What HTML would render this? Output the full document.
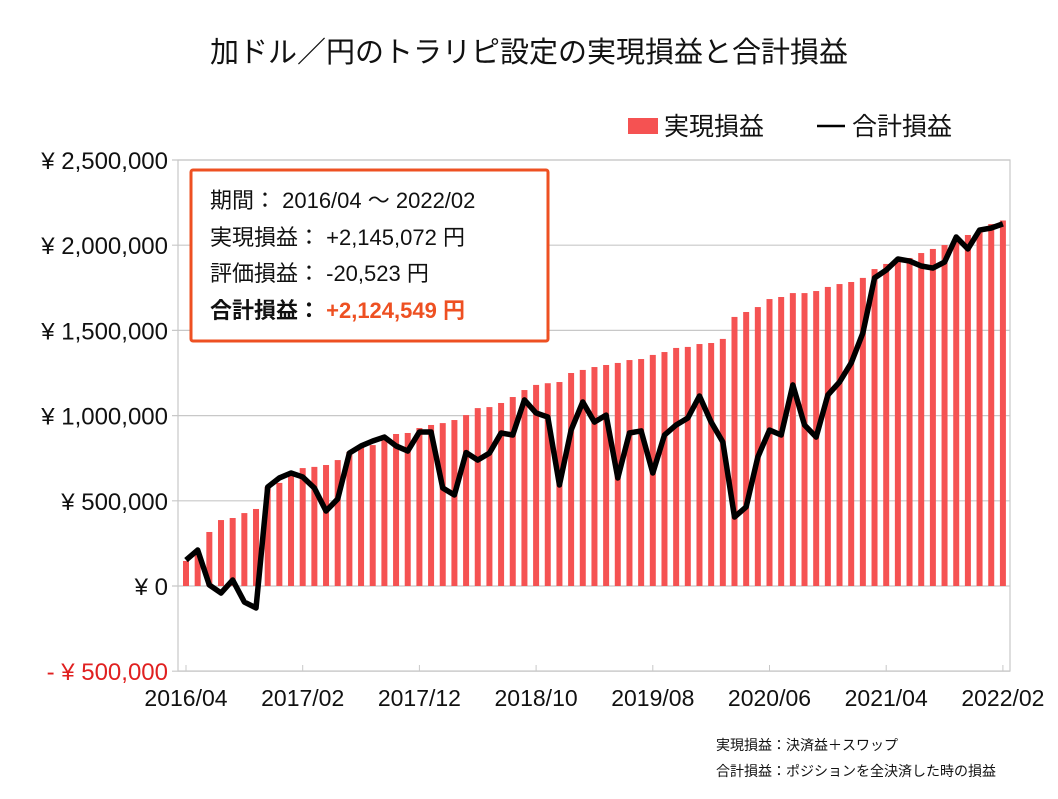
<!DOCTYPE html>
<html><head><meta charset="utf-8">
<style>
html,body{margin:0;padding:0;background:#fff;}
body{width:1058px;height:794px;overflow:hidden;font-family:"Liberation Sans","Noto Sans CJK JP",sans-serif;}
svg text{font-family:"Liberation Sans","Noto Sans CJK JP",sans-serif;}
</style></head>
<body>
<svg id="chart" width="1058" height="794" xmlns="http://www.w3.org/2000/svg">
<text x="529" y="62" text-anchor="middle" font-size="29" fill="#111">加ドル／円のトラリピ設定の実現損益と合計損益</text>
<g id="grid"></g>
<g id="bars"></g>
<g id="line"></g>
<g id="axes"></g>
<g>
<rect x="628" y="118" width="30" height="16" fill="#f55252"/>
<text x="664" y="135" font-size="25" fill="#111">実現損益</text>
<line x1="817" y1="126" x2="845" y2="126" stroke="#000" stroke-width="2.5"/>
<text x="852" y="135" font-size="25" fill="#111">合計損益</text>
</g>
<g>
<rect x="191" y="170" width="357" height="171" fill="#fff" stroke="#ee5022" stroke-width="3" rx="2"/>
<text x="210" y="208" font-size="22" fill="#111">期間： 2016/04 ～ 2022/02</text>
<text x="210" y="245" font-size="22" fill="#111">実現損益： +2,145,072 円</text>
<text x="210" y="281" font-size="22" fill="#111">評価損益： -20,523 円</text>
<text x="210" y="318" font-size="22" fill="#111" font-weight="bold">合計損益： <tspan fill="#ee5022">+2,124,549 円</tspan></text>
</g>
<text x="716" y="750" font-size="14" fill="#111">実現損益：決済益＋スワップ</text>
<text x="716" y="776" font-size="14" fill="#111">合計損益：ポジションを全決済した時の損益</text>
</svg>
<script>
const realized=[147,200,317,387,399,428,452,581,605,669,692,699,710,739,787,815,827,857,892,898,927,945,956,974,1003,1044,1050,1074,1109,1150,1180,1190,1197,1250,1268,1285,1297,1309,1326,1332,1356,1373,1397,1403,1420,1426,1450,1579,1608,1637,1684,1696,1719,1719,1731,1755,1772,1784,1808,1860,1890,1901,1925,1954,1978,2001,2042,2060,2078,2124,2145];
const total=[152,211,6,-41,35,-94,-129,581,634,663,640,575,440,511,780,822,851,874,822,792,904,904,575,534,783,739,780,898,886,1092,1015,992,593,915,1080,962,1003,634,898,910,663,886,945,986,1115,962,845,405,464,757,915,886,1180,945,874,1121,1197,1309,1485,1808,1854,1919,1907,1878,1866,1901,2048,1978,2089,2101,2125];
const yTicks=[2500,2000,1500,1000,500,0,-500];
const yTickLabels=["¥ 2,500,000","¥ 2,000,000","¥ 1,500,000","¥ 1,000,000","¥ 500,000","¥ 0","- ¥ 500,000"];
const xTickIdx=[0,10,20,30,40,50,60,70];
const xTickLabels=["2016/04","2017/02","2017/12","2018/10","2019/08","2020/06","2021/04","2022/02"];
const NS="http://www.w3.org/2000/svg";
const L=178,R=1010,T=160,B=671;
function y(v){return 586-(v/500)*85.2;}
function x(i){return 186+i*11.67;}
function mk(tag,attrs,parent){const e=document.createElementNS(NS,tag);for(const k in attrs)e.setAttribute(k,attrs[k]);document.getElementById(parent).appendChild(e);return e;}
yTicks.forEach((t,i)=>{
 const g=mk('line',{x1:L-6,x2:R,y1:y(t),y2:y(t),stroke:'#c8c8c8','stroke-width':1.2},'grid');
 
 
 const tx=mk('text',{x:L-10,y:y(t)+9,'text-anchor':'end','font-size':24,fill:t<0?'#e02020':'#111'},'axes');
 tx.textContent=yTickLabels[i];
 
 
});
const fr=mk('rect',{x:L,y:T,width:R-L,height:B-T,fill:'none',stroke:'#c8c8c8','stroke-width':1.2},'grid');


realized.forEach((v,i)=>{
 const r=mk('rect',{x:x(i)-3,y:Math.min(y(v),y(0)),width:6,height:Math.abs(y(v)-y(0)),fill:'#f55252'},'bars');
 
 
});
const p=mk('polyline',{points:total.map((v,i)=>x(i)+','+y(v)).join(' '),fill:'none',stroke:'#000','stroke-width':5.5,'stroke-linejoin':'round'},'line');


xTickIdx.forEach((idx,i)=>{
 const tk=mk('line',{x1:x(idx),x2:x(idx),y1:B-6,y2:B,stroke:'#c8c8c8'},'axes');
 
 
 const tx=mk('text',{x:x(idx),y:706,'text-anchor':'middle','font-size':23,fill:'#111'},'axes');
 tx.textContent=xTickLabels[i];
 
 
});
</script>
</body></html>
